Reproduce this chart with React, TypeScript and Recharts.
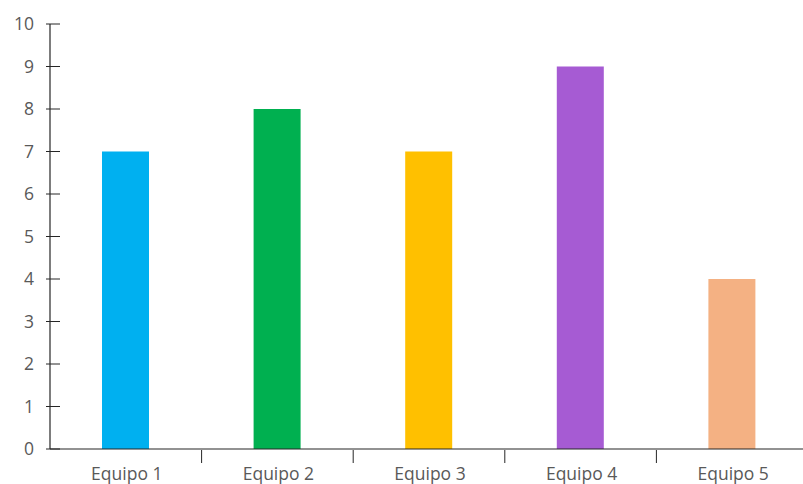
import { Bar, BarChart, Cell, XAxis, YAxis } from "recharts";

const teams = ["Equipo 1", "Equipo 2", "Equipo 3", "Equipo 4", "Equipo 5"];
const scores = [7, 8, 7, 9, 4];
const barColors = ["#00B0F0", "#00B050", "#FFC000", "#A65BD3", "#F4B183"];
const yTicks = [0, 1, 2, 3, 4, 5, 6, 7, 8, 9, 10];

const WIDTH = 803;
const HEIGHT = 484;
const Y_AXIS_W = 10;
const MARGIN = { top: 24, right: -5, bottom: 0, left: 50 - Y_AXIS_W };
const BAND = (WIDTH - 50 - MARGIN.right) / teams.length;
const AXIS_COLOR = "#262626";
const LABEL_COLOR = "#595959";
const FONT = "'Open Sans', 'Noto Sans', sans-serif";
const FONT_SIZE = 17.5;

const data = teams.map((team, i) => ({ team, score: scores[i] }));

// tick mark crosses the axis line, label sits to the left
const YTick = ({ x, y, payload }: any) => {
  const ax = x + Y_AXIS_W;
  return (
    <g>
      <line x1={ax - 6} x2={ax + 8} y1={y} y2={y} stroke={AXIS_COLOR} strokeWidth={1} />
      <text
        x={ax - 18}
        y={y}
        dy={6}
        textAnchor="end"
        fill={LABEL_COLOR}
        fontSize={FONT_SIZE}
        fontFamily={FONT}
      >
        {payload.value}
      </text>
    </g>
  );
};

// label at category centre, tick mark on the boundary to its right
const XTick = ({ x, y, payload, index }: any) => (
  <g>
    {index < teams.length - 1 && (
      <line
        x1={x + BAND / 2}
        x2={x + BAND / 2}
        y1={y - 7}
        y2={y + 6}
        stroke={AXIS_COLOR}
        strokeWidth={1}
      />
    )}
    <text
      x={x + 1}
      y={y + 23}
      textAnchor="middle"
      fill={LABEL_COLOR}
      fontSize={FONT_SIZE}
      fontFamily={FONT}
    >
      {payload.value}
    </text>
  </g>
);

export default function App() {
  return (
    <div style={{ position: "absolute", left: 0, top: 0, background: "#fff" }}>
      <BarChart width={WIDTH} height={HEIGHT} data={data} margin={MARGIN}>
        <XAxis
          dataKey="team"
          height={35}
          axisLine={{ stroke: AXIS_COLOR, strokeWidth: 1.2 }}
          tickLine={false}
          tick={<XTick />}
          interval={0}
        />
        <YAxis
          width={Y_AXIS_W}
          domain={[0, 10]}
          ticks={yTicks}
          interval={0}
          axisLine={{ stroke: AXIS_COLOR, strokeWidth: 1.2 }}
          tickLine={false}
          tick={<YTick />}
        />
        <Bar dataKey="score" barSize={47} isAnimationActive={false}>
          {data.map((d, i) => (
            <Cell key={d.team} fill={barColors[i]} />
          ))}
        </Bar>
      </BarChart>
    </div>
  );
}
